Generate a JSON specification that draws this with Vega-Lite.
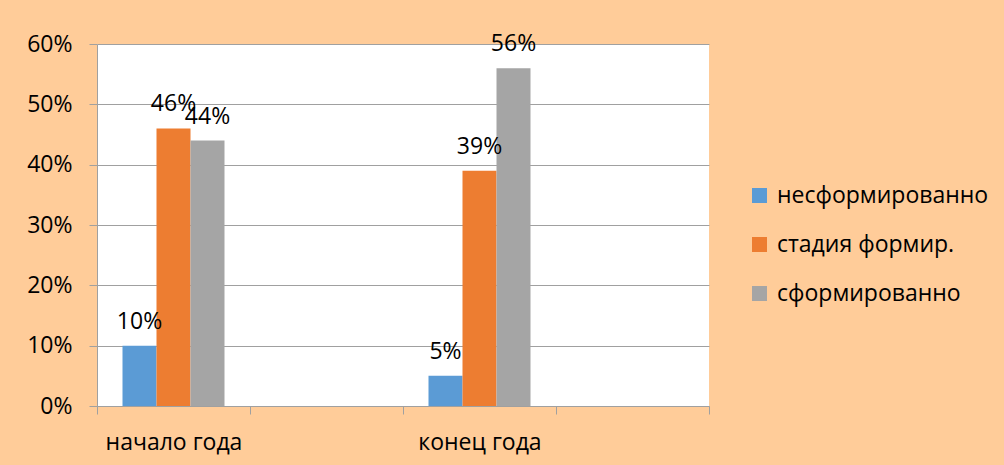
{
  "$schema": "https://vega.github.io/schema/vega-lite/v6.json",
  "width": 612,
  "height": 362,
  "autosize": {"type": "none"},
  "padding": {"left": 97, "top": 44, "right": 295, "bottom": 59},
  "background": "#FFCC99",
  "config": {
    "view": {"fill": "white", "stroke": null},
    "font": "Open Sans",
    "axis": {"labelFontSize": 23, "labelColor": "black", "tickColor": "#A0A0A0", "domainColor": "#A0A0A0", "gridColor": "#A0A0A0", "tickSize": 8}
  },
  "data": {
    "values": [
      {"period": "начало года", "series": "несформированно", "share": 0.10},
      {"period": "начало года", "series": "стадия формир.", "share": 0.46},
      {"period": "начало года", "series": "сформированно", "share": 0.44},
      {"period": "конец года", "series": "несформированно", "share": 0.05},
      {"period": "конец года", "series": "стадия формир.", "share": 0.39},
      {"period": "конец года", "series": "сформированно", "share": 0.56}
    ]
  },
  "layer": [
    {
      "mark": {"type": "bar"},
      "encoding": {
        "x": {
          "field": "period",
          "type": "nominal",
          "scale": {"domain": ["начало года", "_1", "конец года", "_2"], "paddingInner": 0, "paddingOuter": 0},
          "axis": {
            "title": null,
            "labelAngle": 0,
            "labelExpr": "datum.value == '_1' || datum.value == '_2' ? '' : datum.value",
            "labelPadding": 17,
            "tickBand": "extent",
            "grid": false
          }
        },
        "xOffset": {
          "field": "series",
          "type": "nominal",
          "scale": {"domain": ["несформированно", "стадия формир.", "сформированно"], "paddingInner": 0, "paddingOuter": 0.75}
        },
        "y": {
          "field": "share",
          "type": "quantitative",
          "scale": {"domain": [0, 0.6], "nice": false},
          "axis": {
            "title": null,
            "format": ".0%",
            "values": [0, 0.1, 0.2, 0.3, 0.4, 0.5, 0.6],
            "labelPadding": 17,
            "grid": true
          }
        },
        "color": {
          "field": "series",
          "type": "nominal",
          "scale": {"domain": ["несформированно", "стадия формир.", "сформированно"], "range": ["#5B9BD5", "#ED7D31", "#A5A5A5"]},
          "legend": {
            "title": null,
            "orient": "none",
            "legendX": 651,
            "legendY": 140,
            "symbolType": "square",
            "symbolSize": 225,
            "symbolStrokeWidth": 0,
            "labelFontSize": 23,
            "labelColor": "black",
            "labelOffset": 6,
            "labelLimit": 0,
            "labelExpr": "datum.label == 'стадия формир.' ? ' стадия формир.' : datum.label",
            "rowPadding": 25,
            "padding": 0
          }
        }
      }
    },
    {
      "mark": {"type": "text", "baseline": "alphabetic", "dy": -17, "fontSize": 23, "color": "black"},
      "encoding": {
        "x": {"field": "period", "type": "nominal"},
        "xOffset": {"field": "series", "type": "nominal"},
        "y": {"field": "share", "type": "quantitative"},
        "text": {"field": "share", "type": "quantitative", "format": ".0%"}
      }
    }
  ]
}
